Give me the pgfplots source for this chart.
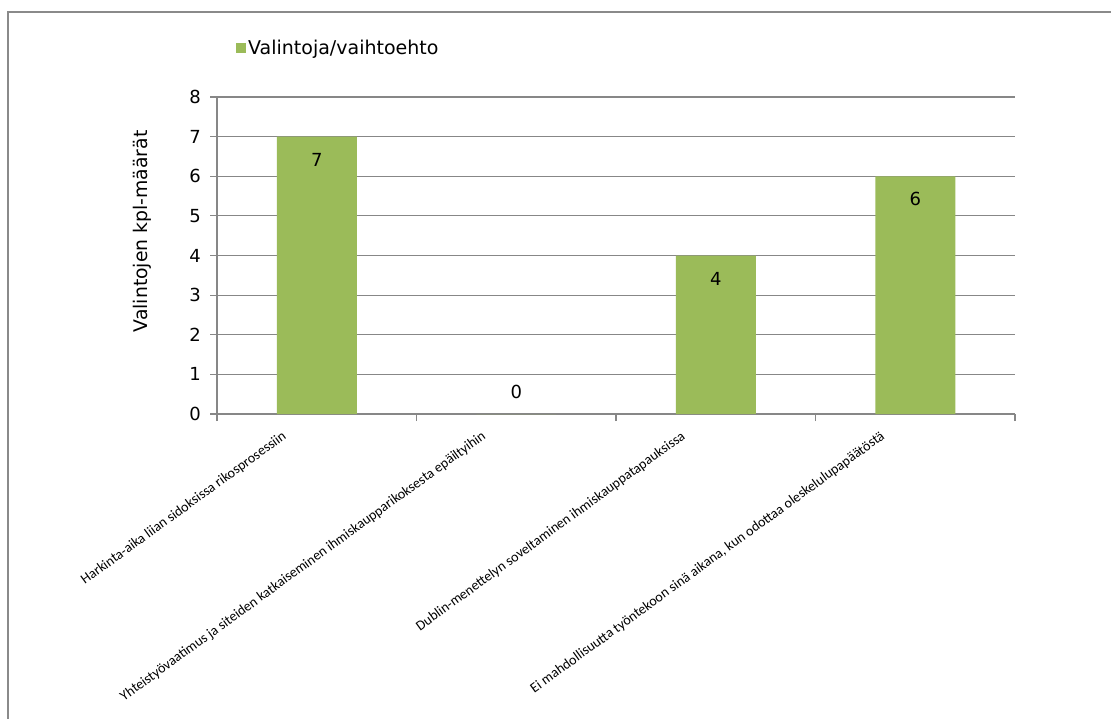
\documentclass[border=0pt]{standalone}
\usepackage{pgfplots}
\pgfplotsset{compat=1.18}
\usepackage{fontspec}
\setmainfont{DejaVu Sans}
\newfontfamily\calib{Carlito}
\definecolor{bargreen}{HTML}{9BBB59}
\definecolor{gridgray}{HTML}{878787}
\definecolor{framegray}{HTML}{8A8A8A}
\begin{document}
\begin{tikzpicture}
\path[use as bounding box] (0,0) rectangle (1111bp,-719bp);
\draw[framegray, line width=1.5bp] (8bp,-730bp) -- (8bp,-12bp) -- (1120bp,-12bp);
\begin{axis}[
  at={(217bp,-414bp)}, anchor=south west,
  scale only axis, width=798bp, height=317bp,
  xmin=-0.5, xmax=3.5, ymin=0, ymax=8,
  ytick={0,1,2,3,4,5,6,7,8},
  xtick={-0.5,0.5,1.5,2.5,3.5}, xticklabels={},
  extra x ticks={0,1,2,3},
  extra x tick labels={Harkinta-aika liian sidoksissa rikosprosessiin,
    Yhteistyövaatimus ja siteiden katkaiseminen ihmiskauppa\-rikoksesta epäiltyihin,
    Dublin-menettelyn soveltaminen ihmiskauppatapauksissa,
    {Ei mahdollisuutta työntekoon sinä aikana, kun odottaa oleskelulupapäätöstä}},
  extra x tick style={major tick length=0pt, grid=none,
    xticklabel style={rotate=36, anchor=north east, inner sep=0pt, xshift=-38bp, yshift=8bp, font=\calib\fontsize{14.1bp}{16bp}\selectfont}},
  axis lines*=left,
  axis line style={gridgray, line width=1.2bp, -},
  tick style={gridgray, line width=1.2bp},
  tick align=outside, major tick length=7bp,
  ymajorgrids, grid style={gridgray, line width=1.2bp},
  /pgf/number format/assume math mode=true,
  yticklabel style={font=\fontsize{18bp}{20bp}\selectfont, inner sep=0pt, xshift=-9bp},
  ylabel={Valintojen kpl-määrät},
  ylabel style={at={(axis description cs:-0.093,0.576)}, anchor=center, font=\fontsize{18.8bp}{21bp}\selectfont},
  ybar, bar width=80bp,
  legend style={at={(axis description cs:0.0238,1.1546)}, anchor=west, draw=none, fill=none,
    font=\fontsize{19bp}{21bp}\selectfont, inner sep=0pt,
    /tikz/every even column/.append style={column sep=0pt}},
  legend cell align=left,
  legend image code/.code={\fill[bargreen] (0bp,-5bp) rectangle (10bp,5bp);},
  clip=false,
]
\addplot[fill=bargreen, draw=none, bar shift=0pt,
  nodes near coords, nodes near coords style={anchor=center, yshift=-23bp, font=\fontsize{18bp}{20bp}\selectfont, text=black}]
  coordinates {(0,7) (2,4) (3,6)};
\addlegendentry{Valintoja/vaihtoehto}
\addplot[fill=bargreen, draw=none, bar shift=0pt, forget plot,
  nodes near coords, nodes near coords style={anchor=center, yshift=22bp, font=\fontsize{18bp}{20bp}\selectfont, text=black}]
  coordinates {(1,0)};
\end{axis}
\end{tikzpicture}
\end{document}
